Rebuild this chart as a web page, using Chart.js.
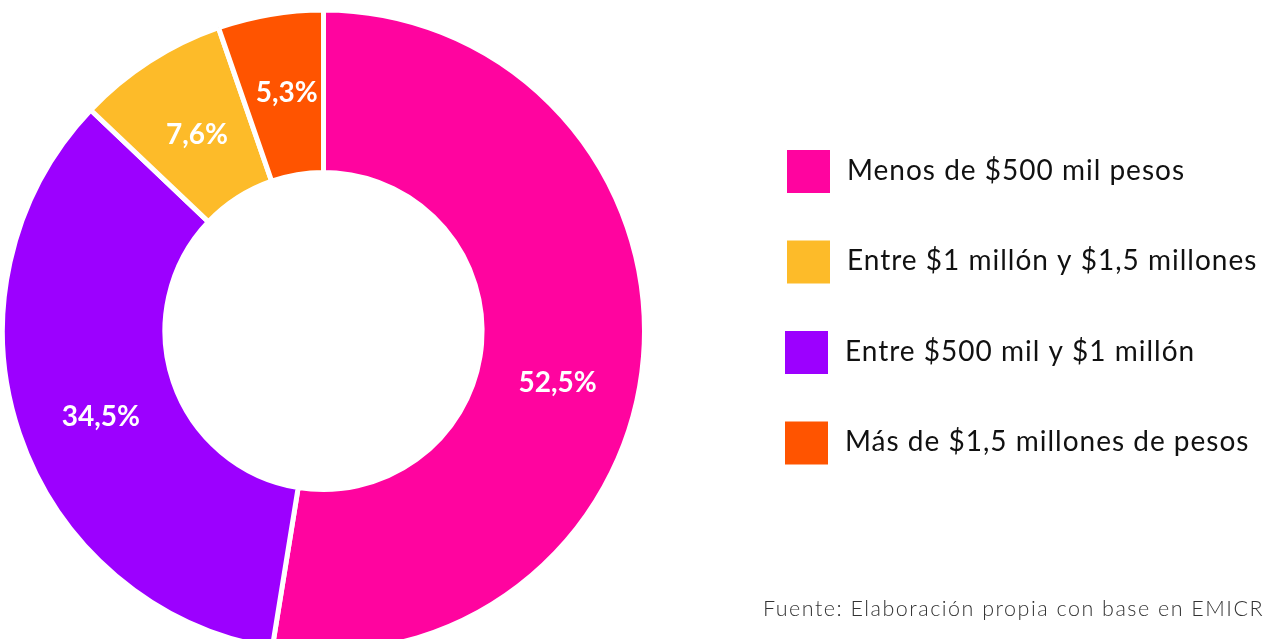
<!DOCTYPE html>
<html>
<head>
<meta charset="utf-8">
<script src="https://cdn.jsdelivr.net/npm/chart.js@4/dist/chart.umd.min.js"></script>
<style>
  html, body { margin: 0; padding: 0; background: #fff; overflow: hidden; }
  #wrap { position: absolute; left: 0; top: 0; width: 1263px; height: 662px; }
</style>
</head>
<body>
<div id="wrap"><canvas id="c" width="1263" height="662"></canvas></div>
<script>
// ---- data ----
const categories = [
  'Menos de $500 mil pesos',
  'Entre $500 mil y $1 millón',
  'Entre $1 millón y $1,5 millones',
  'Más de $1,5 millones de pesos'
];
const values = [52.5, 34.5, 7.6, 5.3];
const valueLabels = ['52,5%', '34,5%', '7,6%', '5,3%'];
const colors = ['#FF049F', '#9C00FF', '#FDBB29', '#FF5400'];
const legendOrder = [0, 2, 1, 3];
const sourceText = 'Fuente: Elaboración propia con base en EMICRON';

// ---- plugins ----
const sliceLabels = {
  id: 'sliceLabels',
  afterDatasetsDraw(chart, args, opts) {
    const ctx = chart.ctx;
    const meta = chart.getDatasetMeta(0);
    ctx.save();
    ctx.fillStyle = '#ffffff';
    ctx.font = 'bold 28px Lato, "Noto Sans", sans-serif';
    ctx.textAlign = 'center';
    ctx.textBaseline = 'middle';
    meta.data.forEach((arc, i) => {
      const p = arc.getProps(['x', 'y', 'startAngle', 'endAngle', 'innerRadius', 'outerRadius'], true);
      const shift = (opts.angleShift[i] || 0) * Math.PI / 180;
      const a = (p.startAngle + p.endAngle) / 2 + shift;
      const r = (p.innerRadius + p.outerRadius) / 2 + (opts.radiusShift[i] || 0);
      ctx.fillText(chart.data.datasets[0].valueLabels[i], p.x + Math.cos(a) * r, p.y + Math.sin(a) * r);
    });
    ctx.restore();
  }
};

const sideLegend = {
  id: 'sideLegend',
  afterDraw(chart, args, opts) {
    const ctx = chart.ctx;
    const ds = chart.data.datasets[0];
    ctx.save();
    opts.order.forEach((idx, k) => {
      const cy = opts.firstY + k * opts.stepY;
      const bx = k < 2 ? opts.boxX : opts.boxX - 2;
      ctx.fillStyle = ds.backgroundColor[idx];
      ctx.fillRect(bx, cy - opts.box / 2, opts.box, opts.box);
      ctx.fillStyle = '#111111';
      ctx.font = '28px Lato, "Noto Sans", sans-serif';
      ctx.letterSpacing = '1px';
      ctx.textAlign = 'left';
      ctx.textBaseline = 'alphabetic';
      ctx.fillText(chart.data.labels[idx], bx + 60, cy + 8);
    });
    ctx.fillStyle = '#333333';
    ctx.font = '300 21.5px Lato, "Noto Sans", sans-serif';
    ctx.letterSpacing = '1.5px';
    ctx.fillText(opts.source, 763, 616);
    ctx.restore();
  }
};

new Chart(document.getElementById('c'), {
  type: 'doughnut',
  data: {
    labels: categories,
    datasets: [{
      data: values,
      valueLabels: valueLabels,
      backgroundColor: colors,
      borderColor: '#ffffff',
      borderWidth: 5,
      hoverOffset: 0
    }]
  },
  options: {
    responsive: false,
    devicePixelRatio: 1,
    animation: false,
    cutout: '49.4%',
    layout: { padding: { left: 0, top: 0, bottom: 0, right: 616 } },
    plugins: {
      legend: { display: false },
      tooltip: { enabled: false },
      sliceLabels: { angleShift: [7.9, -2.5, 0, 0.8], radiusShift: [0, -1, -6, 1.5] },
      sideLegend: { order: legendOrder, firstY: 171.5, stepY: 90.5, box: 43, boxX: 787, source: sourceText }
    }
  },
  plugins: [sliceLabels, sideLegend]
});
</script>
</body>
</html>
